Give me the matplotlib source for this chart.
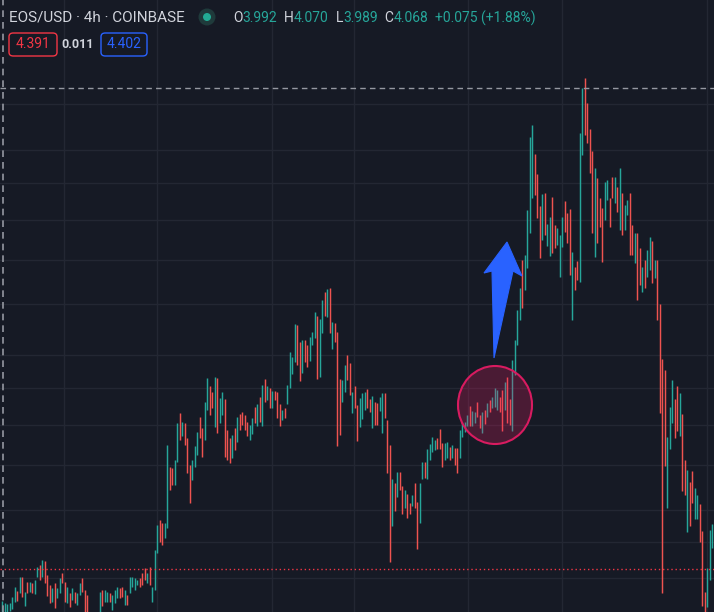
import matplotlib.pyplot as plt
from matplotlib.patches import Ellipse, Polygon, FancyBboxPatch

W, H = 714, 612
BG = "#161a25"
GRID = "#232733"
UP = "#26a69a"
DOWN = "#ef5350"
TXT = "#d1d4dc"
FONT = ["Roboto", "DejaVu Sans"]

# EOS/USD 4h candles (price)
highs = [
    4.07, 4.05, 4.04, 4.05, 4.11, 4.21, 4.17, 4.31, 4.31, 4.16,
    4.26, 4.26, 4.25, 4.28, 4.41, 4.43, 4.48, 4.47, 4.33, 4.23,
    4.20, 4.25, 4.20, 4.30, 4.35, 4.26, 4.21, 4.15, 4.20, 4.16,
    4.15, 4.25, 4.30, 4.18, 4.13, 3.95, 3.93, 3.94, 3.96, 4.16,
    4.18, 4.18, 4.16, 4.15, 4.13, 4.18, 4.21, 4.20, 4.21, 4.18,
    4.13, 4.31, 4.31, 4.30, 4.28, 4.30, 4.35, 4.40, 4.35, 4.41,
    4.21, 4.58, 4.83, 4.88, 4.85, 4.85, 5.63, 5.41, 5.40, 5.48,
    5.85, 5.95, 5.86, 5.85, 5.70, 5.43, 5.48, 5.62, 5.76, 5.91,
    5.80, 6.06, 6.30, 6.22, 6.16, 6.31, 6.30, 6.10, 6.16, 6.09,
    5.78, 5.70, 5.73, 5.80, 5.91, 5.94, 5.96, 5.93, 5.86, 5.83,
    5.90, 6.01, 6.04, 6.11, 6.23, 6.29, 6.22, 6.20, 6.17, 6.17,
    6.16, 6.04, 5.98, 6.00, 6.23, 6.56, 6.51, 6.84, 6.83, 6.66,
    6.68, 6.68, 6.63, 6.71, 6.76, 6.96, 6.92, 6.89, 7.08, 7.16,
    7.19, 7.20, 6.86, 6.85, 6.76, 6.29, 6.28, 6.43, 6.53, 6.45,
    6.16, 6.22, 6.03, 6.10, 6.15, 6.16, 6.19, 6.09, 6.12, 6.06,
    6.05, 6.11, 6.15, 6.15, 5.88, 5.63, 5.29, 5.25, 5.36, 5.36,
    5.22, 5.18, 5.14, 5.05, 5.13, 5.25, 5.06, 5.25, 5.46, 5.46,
    5.59, 5.64, 5.71, 5.68, 5.70, 5.79, 5.65, 5.65, 5.66, 5.61,
    5.63, 5.60, 5.60, 5.78, 5.86, 5.86, 5.93, 6.02, 5.97, 5.96,
    6.06, 5.93, 5.96, 5.98, 6.05, 6.08, 6.11, 6.20, 6.18, 6.11,
    6.18, 6.26, 6.31, 6.09, 6.48, 6.68, 6.98, 7.20, 7.48, 7.53,
    7.98, 8.71, 8.83, 8.54, 8.34, 8.02, 8.14, 8.15, 7.84, 7.91,
    8.11, 7.83, 7.80, 7.73, 7.91, 8.07, 7.95, 7.99, 7.56, 7.41,
    7.47, 8.75, 9.20, 9.30, 9.05, 8.79, 8.57, 8.40, 8.30, 8.10,
    8.00, 8.26, 8.28, 8.10, 8.31, 8.31, 8.21, 8.40, 8.15, 8.03,
    8.08, 8.15, 7.83, 7.75, 7.75, 7.60, 7.41, 7.48, 7.58, 7.71,
    7.67, 7.48, 7.48, 7.04, 6.49, 6.38, 5.71, 6.01, 6.28, 6.09,
    6.22, 6.15, 5.94, 5.48, 5.38, 5.26, 5.37, 5.20, 5.13, 5.04,
    4.77, 4.16, 4.40, 4.78, 4.84,
]
lows = [
    3.96, 3.96, 3.96, 3.97, 3.99, 4.06, 4.07, 4.15, 4.11, 4.02,
    4.15, 4.16, 4.15, 4.14, 4.31, 4.28, 4.31, 4.25, 4.12, 4.05,
    4.06, 4.00, 4.10, 4.15, 4.25, 4.06, 4.05, 4.01, 4.08, 4.05,
    4.03, 4.13, 4.16, 3.96, 3.96, 3.78, 3.78, 3.80, 3.82, 3.93,
    4.02, 4.06, 4.06, 4.06, 3.98, 4.05, 4.10, 4.10, 4.11, 4.03,
    4.03, 4.15, 4.21, 4.18, 4.23, 4.21, 4.23, 4.28, 4.25, 4.23,
    4.06, 4.18, 4.55, 4.66, 4.63, 4.70, 4.80, 5.18, 5.23, 5.23,
    5.46, 5.68, 5.72, 5.63, 5.35, 5.05, 5.28, 5.41, 5.53, 5.70,
    5.51, 5.68, 5.98, 5.93, 6.00, 5.81, 5.75, 5.85, 5.93, 5.51,
    5.48, 5.45, 5.50, 5.58, 5.66, 5.78, 5.83, 5.78, 5.72, 5.68,
    5.74, 5.85, 5.82, 5.86, 5.82, 6.06, 6.08, 6.00, 6.00, 6.08,
    5.90, 5.82, 5.88, 5.90, 6.04, 6.20, 6.34, 6.46, 6.43, 6.27,
    6.35, 6.46, 6.41, 6.47, 6.63, 6.70, 6.29, 6.31, 6.75, 6.92,
    6.91, 6.75, 6.59, 6.66, 5.62, 5.73, 6.06, 6.16, 6.28, 6.13,
    5.95, 6.00, 5.67, 5.81, 5.89, 5.98, 6.00, 5.96, 5.80, 5.83,
    5.83, 5.97, 5.75, 5.90, 5.35, 4.46, 4.82, 4.97, 5.11, 5.18,
    4.94, 5.00, 4.90, 4.94, 5.02, 5.00, 4.59, 4.85, 5.29, 5.30,
    5.29, 5.48, 5.56, 5.58, 5.59, 5.59, 5.41, 5.48, 5.50, 5.48,
    5.50, 5.43, 5.35, 5.50, 5.71, 5.76, 5.82, 5.82, 5.82, 5.85,
    5.91, 5.80, 5.75, 5.84, 5.91, 5.96, 6.00, 6.01, 5.98, 5.96,
    5.77, 5.98, 5.85, 5.83, 5.77, 6.33, 6.63, 6.88, 7.00, 7.18,
    7.40, 7.75, 8.10, 8.13, 7.90, 7.50, 7.68, 7.73, 7.62, 7.52,
    7.55, 7.60, 7.63, 7.31, 7.61, 7.76, 7.65, 7.33, 6.88, 7.18,
    7.28, 7.26, 8.53, 8.73, 8.65, 8.35, 7.75, 7.51, 7.65, 7.81,
    7.46, 7.88, 8.08, 7.81, 8.10, 8.05, 7.96, 7.78, 7.73, 7.78,
    7.93, 7.53, 7.53, 7.45, 7.08, 7.23, 7.16, 7.20, 7.31, 7.38,
    7.25, 7.30, 6.88, 5.95, 4.15, 5.42, 5.00, 5.59, 5.85, 5.70,
    5.77, 5.72, 5.17, 5.13, 4.76, 4.82, 5.05, 4.89, 4.89, 4.66,
    4.02, 3.96, 4.01, 4.28, 4.60,
]
# G = up candle, R = down candle
dirs = (
    "GGGGGGRGRG" "RGRGGRGRRR" "GRGGRRGRGR" "GGRRRRGRGG" "RGGRGGGRRG"
    "RGGGGRRRGR" "GGGRRGGRRG" "GRGRRRGGGR" "RGGRRGRGGR" "RRGRGRRRRG"
    "GRGRGRGRGR" "RRGRGGGGRR" "GRRGGGRGGR" "GRGRRRGGRR" "GRRGGGRRGR"
    "RGGRRRGRGR" "RGRRGRRGGR" "GGGGRRRGGR" "GRRGGGGRGG" "RRGRGRGGGR"
    "RGRRGGGGRG" "GGGRRRGRGG" "RRGGGRRRGR" "RGGRRRRGRR" "RGGRRGRGRG"
    "GRRGRRGRGG" "RGRRRRGGGR" "RGRRGRRGGR" "RRGGG"
)

grid_prices = [9.04, 8.58, 8.25, 7.88, 7.48, 7.04, 6.53, 6.20, 5.83, 5.43, 4.98, 4.66, 4.30]
grid_bars = [24.8, 62.0, 108.0, 140.8, 186.4, 224.0, 282.0]
crosshair_price = 9.20
crosshair_bar = 0.4
last_price = 4.39

fig = plt.figure(figsize=(W / 100, H / 100), dpi=100, facecolor=BG)
ax = fig.add_axes([0, 0, 1, 1])
ax.set_facecolor(BG)

for p in grid_prices:
    ax.axhline(p, color=GRID, lw=1, zorder=0)
for b in grid_bars:
    ax.axvline(b, color=GRID, lw=1, zorder=0)

xs = list(range(len(highs)))
cols = [UP if d == "G" else DOWN for d in dirs]
ax.vlines(xs, lows, highs, colors=cols, linewidth=1.05, zorder=2)

ax.set_xlim(-0.8, 284.8)
ax.set_ylim(3.96, 10.08)
ax.set_xticks([])
ax.set_yticks([])
for s in ax.spines.values():
    s.set_visible(False)

# crosshair + last price line
ax.axhline(crosshair_price, color="#9598a1", lw=1, ls=(0, (4, 3)), zorder=3)
ax.axvline(crosshair_bar, color="#9598a1", lw=1.2, ls=(0, (4, 3)), zorder=3)
ax.axhline(last_price, color="#f23645", lw=1, ls=(0, (1, 2)), zorder=3)

# highlight circle
ax.add_patch(Ellipse((197.2, 6.03), 29.6, 0.78, facecolor=(0.91, 0.12, 0.39, 0.25),
                     edgecolor="#d81b60", lw=1.5, zorder=4))


def fx(x):
    return x / W


def fy(y):
    return 1 - y / H


# blue arrow (pixel outline)
arrow = [(494, 358), (492, 271), (484, 273), (507, 242), (522, 276), (513, 271)]
fig.patches.append(Polygon([(fx(a), fy(b)) for a, b in arrow], closed=True,
                           transform=fig.transFigure, facecolor="#2962ff",
                           edgecolor="#2962ff", lw=0.8, zorder=5))

# header
fig.text(fx(9), fy(18), "EOS/USD · 4h · COINBASE", color=TXT, fontsize=11,
         va="center", family=FONT)
fig.patches.append(Ellipse((fx(207), fy(17)), 17 / W, 17 / H, transform=fig.transFigure,
                           facecolor="#1f3a3b", edgecolor="none"))
fig.patches.append(Ellipse((fx(207), fy(17)), 8 / W, 8 / H, transform=fig.transFigure,
                           facecolor="#22ab94", edgecolor="none"))

r = fig.canvas.get_renderer()
x = 233
for s, c, gap in [("O", TXT, 0), ("3.992", UP, 7), ("H", TXT, 0), ("4.070", UP, 7),
                  ("L", TXT, 0), ("3.989", UP, 7), ("C", TXT, 0), ("4.068", UP, 7),
                  ("+0.075 (+1.88%)", UP, 0)]:
    t = fig.text(fx(x), fy(18), s, color=c, fontsize=10, va="center", family=FONT)
    x += t.get_window_extent(renderer=r).width + gap

# bid / spread / ask
for x0, x1, val, c in [(9, 57, "4.391", "#f23645"), (101, 147, "4.402", "#2962ff")]:
    fig.patches.append(FancyBboxPatch((fx(x0), fy(56)), fx(x1 - x0), (56 - 33) / H,
                                      boxstyle="round,pad=0,rounding_size=0.006",
                                      transform=fig.transFigure, facecolor="none",
                                      edgecolor=c, lw=1))
    fig.text(fx((x0 + x1) / 2), fy(44.5), val, color=c, fontsize=10,
             ha="center", va="center", family=FONT)
fig.text(fx(78), fy(44.5), "0.011", color=TXT, fontsize=9, ha="center", va="center",
         family=FONT, fontweight="bold")

fig.savefig("out.png", dpi=100, facecolor=BG)
